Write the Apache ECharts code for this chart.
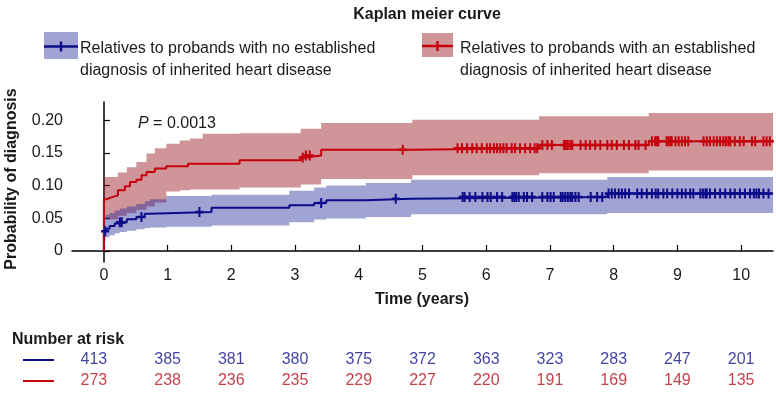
<!DOCTYPE html>
<html>
<head>
<meta charset="utf-8">
<script src="https://cdn.jsdelivr.net/npm/echarts@6/dist/echarts.min.js"></script>
<style>
  html, body { margin: 0; padding: 0; background: #fff; }
  #km { width: 776px; height: 395px; }
</style>
</head>
<body>
<div id="km"></div>
<script>
// Kaplan-Meier step estimates (time in years, probability of diagnosis)
const blueTimes = [0, 0, 0.03, 0.09, 0.17, 0.25, 0.36, 0.51, 0.64, 0.72, 1.69, 2.91, 3.30, 3.49, 4.11, 4.82, 7.90, 10.5];
const blueProb = [0, 0.030, 0.034, 0.038, 0.042, 0.044, 0.0485, 0.052, 0.057, 0.0597, 0.066, 0.070, 0.0734, 0.0775, 0.080, 0.0826, 0.0877, 0.0877];
const redTimes = [0, 0, 0.04, 0.12, 0.22, 0.33, 0.41, 0.51, 0.59, 0.67, 0.80, 0.98, 1.32, 2.13, 3.09, 3.17, 3.41, 4.84, 6.83, 8.55, 10.5];
const redProb = [0, 0.079, 0.082, 0.085, 0.093, 0.099, 0.1055, 0.109, 0.116, 0.121, 0.126, 0.1295, 0.1336, 0.1387, 0.143, 0.146, 0.155, 0.157, 0.162, 0.168, 0.168];

// 95% confidence bands
const blueCiTimes = [0, 0.03, 0.09, 0.17, 0.25, 0.36, 0.51, 0.64, 0.72, 0.98, 1.69, 2.91, 3.30, 3.49, 4.11, 4.82, 7.90, 10.5];
const blueCiLow = [0.016, 0.021, 0.024, 0.027, 0.029, 0.031, 0.033, 0.035, 0.036, 0.037, 0.039, 0.044, 0.048, 0.0495, 0.052, 0.056, 0.058, 0.058];
const blueCiHigh = [0.052, 0.055, 0.058, 0.062, 0.065, 0.068, 0.072, 0.076, 0.079, 0.084, 0.086, 0.092, 0.097, 0.100, 0.104, 0.109, 0.113, 0.113];
const redCiTimes = [0, 0.22, 0.36, 0.51, 0.67, 0.80, 0.98, 1.19, 1.35, 1.55, 2.13, 3.09, 3.41, 4.84, 6.83, 8.55, 10.5];
const redCiLow = [0.048, 0.054, 0.058, 0.063, 0.068, 0.074, 0.091, 0.093, 0.094, 0.094, 0.097, 0.1015, 0.110, 0.116, 0.119, 0.123, 0.123];
const redCiHigh = [0.113, 0.120, 0.128, 0.136, 0.149, 0.157, 0.164, 0.169, 0.172, 0.1795, 0.180, 0.187, 0.196, 0.201, 0.206, 0.211, 0.211];

// censoring times
const blueCensor = [0.02, 0.25, 0.28, 0.59, 1.50, 3.41, 4.58, 5.63, 5.66, 5.74, 5.83, 5.94, 6.02, 6.07, 6.17, 6.25,
  6.41, 6.44, 6.47, 6.51, 6.59, 6.64, 6.72, 6.88, 6.96, 7.01, 7.06, 7.17, 7.20, 7.24, 7.28, 7.32, 7.35, 7.40, 7.45,
  7.64, 7.74, 7.82, 7.92, 7.97, 8.02, 8.08, 8.13, 8.18, 8.24, 8.37, 8.44, 8.52, 8.60, 8.66, 8.70, 8.78, 8.84, 8.92,
  9.00, 9.07, 9.13, 9.20, 9.25, 9.36, 9.40, 9.44, 9.46, 9.51, 9.59, 9.67, 9.75, 9.83, 9.90, 9.98, 10.06, 10.14,
  10.20, 10.24, 10.28, 10.35, 10.43];
const redCensor = [3.12, 3.17, 3.23, 4.69, 5.55, 5.62, 5.70, 5.78, 5.85, 5.93, 6.01, 6.06, 6.12, 6.17, 6.22, 6.27,
  6.32, 6.40, 6.45, 6.53, 6.61, 6.69, 6.76, 6.80, 6.88, 6.96, 7.03, 7.22, 7.25, 7.28, 7.32, 7.35, 7.48, 7.56, 7.63,
  7.71, 7.79, 7.90, 7.97, 8.05, 8.16, 8.24, 8.34, 8.39, 8.50, 8.60, 8.65, 8.68, 8.70, 8.83, 8.86, 8.89, 8.91, 8.97,
  9.02, 9.07, 9.12, 9.17, 9.41, 9.46, 9.51, 9.57, 9.62, 9.67, 9.72, 9.76, 9.80, 9.83, 9.90, 9.98, 10.04, 10.17,
  10.22, 10.35, 10.40, 10.45];

// number at risk table
const riskTimes = [0, 1, 2, 3, 4, 5, 6, 7, 8, 9, 10];
const blueRisk = [413, 385, 381, 380, 375, 372, 363, 323, 283, 247, 201];
const redRisk = [273, 238, 236, 235, 229, 227, 220, 191, 169, 149, 135];

const xTicks = [0, 1, 2, 3, 4, 5, 6, 7, 8, 9, 10];
const yTicks = [0, 0.05, 0.10, 0.15, 0.20];

const blueName = 'Relatives to probands with no established\ndiagnosis of inherited heart disease';
const redName = 'Relatives to probands with an established\ndiagnosis of inherited heart disease';

const FONT = '"Liberation Sans", Arial, Helvetica, sans-serif';
const BLUE = '#0c0c8a';
const RED = '#c6000c';
const BLUE_BAND = 'rgba(30, 35, 150, 0.42)';
const RED_BAND = 'rgba(150, 25, 30, 0.46)';
const PLUS = 'path://M3,0H5V3H8V5H5V8H3V5H0V3H3Z';

const chart = echarts.init(document.getElementById('km'), null, {renderer: 'canvas'});

function pairs(xs, ys) {
  return xs.map((x, i) => [x, ys[i]]);
}

// value of the step curve at time t
function stepValue(times, vals, t) {
  let v = vals[0];
  for (let i = 0; i < times.length; i++) {
    if (times[i] <= t) v = vals[i];
  }
  return v;
}

// confidence band drawn as one step-shaped polygon
function bandSeries(times, low, high, color) {
  return {
    type: 'custom', silent: true, z: 1,
    data: times.map((t, i) => [t, low[i], high[i]]),
    renderItem(params, api) {
      if (params.dataIndex !== 0) return null;
      const n = times.length;
      const top = [];
      const bottom = [];
      for (let i = 0; i < n; i++) {
        const tNext = i < n - 1 ? times[i + 1] : times[i];
        top.push(api.coord([times[i], high[i]]), api.coord([tNext, high[i]]));
        bottom.push(api.coord([times[i], low[i]]), api.coord([tNext, low[i]]));
      }
      return {
        type: 'polygon',
        shape: {points: top.concat(bottom.reverse())},
        style: {fill: color},
      };
    },
  };
}

function riskSeries(row, counts, color) {
  return {
    type: 'scatter', xAxisIndex: 1, yAxisIndex: 1, symbolSize: 0, silent: true,
    data: riskTimes.map((t, i) => ({
      value: [t, row, counts[i]],
      label: i === 0 ? {offset: [-10, 0]} : undefined,
    })),
    label: {
      show: true, position: 'inside', color: color, fontSize: 16, fontFamily: FONT,
      formatter: (p) => String(p.value[2]),
    },
  };
}

function legendItem(x, y, w, h, lineY, color, band, text, textX) {
  return [
    {type: 'rect', shape: {x: x, y: y, width: w, height: h}, style: {fill: band}},
    {type: 'line', shape: {x1: x, y1: lineY, x2: x + w, y2: lineY}, style: {stroke: color, lineWidth: 2.5}},
    {type: 'line', shape: {x1: x + w / 2, y1: lineY - 5, x2: x + w / 2, y2: lineY + 5}, style: {stroke: color, lineWidth: 2.5}},
    {type: 'text', x: textX, y: 38, style: {text: text, font: '16px ' + FONT, fill: '#1a1a1a', lineHeight: 22, verticalAlign: 'top'}},
  ];
}

const option = {
  animation: false,
  backgroundColor: '#fff',
  title: {
    text: 'Kaplan meier curve', left: 422, top: 2, textAlign: 'center',
    textStyle: {fontSize: 16, fontWeight: 'bold', color: '#1a1a1a', fontFamily: FONT},
  },
  grid: [
    {left: 72, right: 3, top: 102, height: 160, outerBoundsMode: 'none'},
    {left: 72, right: 3, top: 360, height: 21, outerBoundsMode: 'none'},
  ],
  xAxis: [
    {
      type: 'value', gridIndex: 0, min: -0.5, max: 10.5,
      axisLine: {lineStyle: {color: '#000', width: 1.5}},
      axisTick: {inside: true, length: 6, customValues: xTicks, lineStyle: {color: '#000', width: 1.2}},
      axisLabel: {customValues: xTicks, margin: 6, fontSize: 16, color: '#1a1a1a', fontFamily: FONT},
      splitLine: {show: false},
    },
    {type: 'value', gridIndex: 1, min: -0.5, max: 10.5, show: false},
  ],
  yAxis: [
    {
      type: 'value', gridIndex: 0, min: -0.017, max: 0.228,
      axisLine: {show: true, lineStyle: {color: '#000', width: 1.5}},
      axisTick: {show: true, inside: true, length: 6, customValues: yTicks, lineStyle: {color: '#000', width: 1.2}},
      axisLabel: {
        customValues: yTicks, margin: 9, fontSize: 16, color: '#1a1a1a', fontFamily: FONT,
        formatter: (v) => (v === 0 ? '0' : v.toFixed(2)),
      },
      splitLine: {show: false},
    },
    {type: 'value', gridIndex: 1, min: 0, max: 1, inverse: true, show: false},
  ],
  series: [
    bandSeries(redCiTimes, redCiLow, redCiHigh, RED_BAND),
    bandSeries(blueCiTimes, blueCiLow, blueCiHigh, BLUE_BAND),
    {
      type: 'line', name: 'blue', step: 'end', data: pairs(blueTimes, blueProb),
      symbol: 'none', lineStyle: {color: BLUE, width: 2}, z: 3,
    },
    {
      type: 'line', name: 'red', step: 'end', data: pairs(redTimes, redProb),
      symbol: 'none', lineStyle: {color: RED, width: 2}, z: 4,
    },
    {
      type: 'scatter', name: 'blue-censor', symbol: PLUS, symbolSize: [8, 10], symbolKeepAspect: false,
      data: blueCensor.map((t) => [t, stepValue(blueTimes, blueProb, t)]),
      itemStyle: {color: BLUE, opacity: 1}, z: 5,
    },
    {
      type: 'scatter', name: 'red-censor', symbol: PLUS, symbolSize: [8, 10], symbolKeepAspect: false,
      data: redCensor.map((t) => [t, stepValue(redTimes, redProb, t)]),
      itemStyle: {color: RED, opacity: 1}, z: 5,
    },
    riskSeries(0, blueRisk, '#12128a'),
    riskSeries(1, redRisk, '#b5121b'),
  ],
  graphic: [
    ...legendItem(44, 32, 34, 27, 46.5, BLUE, BLUE_BAND, blueName, 80),
    ...legendItem(422, 33, 31, 24, 46, RED, RED_BAND, redName, 460),
    {
      type: 'text', x: 12, y: 179, rotation: Math.PI / 2,
      style: {text: 'Probability of diagnosis', font: 'bold 16px ' + FONT, fill: '#1a1a1a', align: 'center', verticalAlign: 'middle'},
    },
    {
      type: 'text', x: 422, y: 300, style: {text: 'Time (years)', font: 'bold 16px ' + FONT, fill: '#1a1a1a', align: 'center', verticalAlign: 'middle'},
    },
    {
      type: 'text', x: 138, y: 124,
      style: {
        text: '{i|P} = 0.0013', font: '16px ' + FONT, fill: '#1a1a1a', verticalAlign: 'middle',
        rich: {i: {fontStyle: 'italic', fontSize: 16, fontFamily: FONT, fill: '#1a1a1a'}},
      },
    },
    {
      type: 'text', x: 12, y: 340, style: {text: 'Number at risk', font: 'bold 16px ' + FONT, fill: '#1a1a1a', verticalAlign: 'middle'},
    },
    {type: 'line', shape: {x1: 23, y1: 360, x2: 54, y2: 360}, style: {stroke: BLUE, lineWidth: 2}},
    {type: 'line', shape: {x1: 23, y1: 381, x2: 54, y2: 381}, style: {stroke: RED, lineWidth: 2}},
  ],
};

chart.setOption(option);
</script>
</body>
</html>
